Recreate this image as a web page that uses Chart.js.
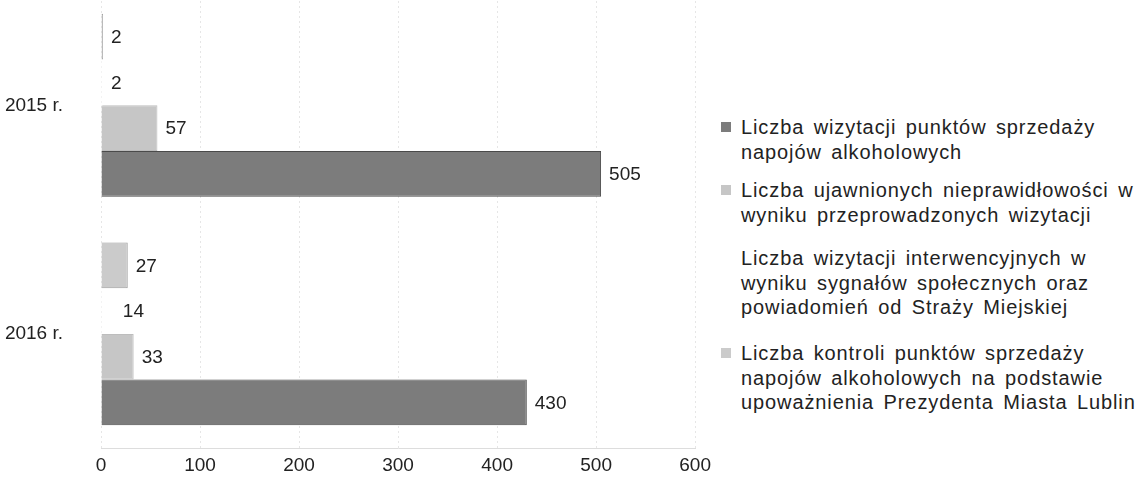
<!DOCTYPE html>
<html>
<head>
<meta charset="utf-8">
<script src="https://cdn.jsdelivr.net/npm/chart.js@4"></script>
<style>
  body { margin: 0; background: #fff; font-family: "Liberation Sans", Arial, sans-serif; overflow: hidden; }
  #wrap { position: absolute; left: 0; top: -9px; width: 717px; height: 499px; }
  #legend { position: absolute; left: 0; top: 0; }
  .item { position: absolute; left: 720px; width: 423px; font-size: 20px; line-height: 24.5px; color: #222; letter-spacing: 0.9px; word-spacing: 3px; }
  .box { position: absolute; left: 1px; top: 7px; width: 10px; height: 10px; }
  .txt { margin-left: 21px; white-space: nowrap; }
</style>
</head>
<body>
<div id="wrap"><canvas id="barChart"></canvas></div>
<div id="legend"></div>
<script>
const categories = ['2015 r.', '2016 r.'];
const wizytacje = [505, 430];
const nieprawidlowosci = [57, 33];
const interwencyjne = [2, 14];
const kontrole = [2, 27];
const xTicks = [0, 100, 200, 300, 400, 500, 600];

const seriesNames = [
    ['Liczba wizytacji punktów sprzedaży', 'napojów alkoholowych'],
    ['Liczba ujawnionych nieprawidłowości w', 'wyniku przeprowadzonych wizytacji'],
    ['Liczba wizytacji interwencyjnych w', 'wyniku sygnałów społecznych oraz', 'powiadomień od Straży Miejskiej'],
    ['Liczba kontroli punktów sprzedaży', 'napojów alkoholowych na podstawie', 'upoważnienia Prezydenta Miasta Lublin']
];
const colors = ['#7c7c7c', '#c6c6c6', '#ffffff', '#cbcbcb'];
const borders = ['#4a4a4a', '#bdbdbd', '#ffffff', '#9a9a9a'];

// value labels next to bar ends
const valueLabels = {
    id: 'valueLabels',
    afterDatasetsDraw(chart) {
        const ctx = chart.ctx;
        ctx.save();
        ctx.font = '19px "Liberation Sans", Arial, sans-serif';
        ctx.fillStyle = '#222';
        ctx.textBaseline = 'middle';
        chart.data.datasets.forEach((ds, i) => {
            chart.getDatasetMeta(i).data.forEach((bar, j) => {
                ctx.fillText(ds.data[j], bar.x + 8, bar.y + 1);
            });
        });
        ctx.restore();
    }
};

// top to bottom inside a category: kontrole, interwencyjne, nieprawidlowosci, wizytacje
const order = [3, 2, 1, 0];
const values = [wizytacje, nieprawidlowosci, interwencyjne, kontrole];

const config = {
    type: 'bar',
    data: {
        labels: categories,
        datasets: order.map(k => ({
            label: seriesNames[k].join(' '),
            data: values[k],
            backgroundColor: colors[k],
            borderColor: borders[k],
            borderWidth: k === 2 ? 0 : 1,
            barPercentage: 1,
            categoryPercentage: 0.8
        }))
    },
    options: {
        indexAxis: 'y',
        responsive: true,
        maintainAspectRatio: false,
        animation: false,
        layout: {
            padding: { top: 0, right: 17, bottom: 7, left: 0 }
        },
        plugins: {
            legend: { display: false },
            tooltip: { enabled: false }
        },
        scales: {
            x: {
                min: 0,
                max: 600,
                afterBuildTicks: (axis) => { axis.ticks = xTicks.map(v => ({ value: v })); },
                grid: { color: '#e6e6e6', drawTicks: false },
                border: { color: '#dddddd', dash: [2, 3] },
                ticks: {
                    padding: 6,
                    color: '#222',
                    font: { family: '"Liberation Sans", Arial, sans-serif', size: 19 }
                }
            },
            y: {
                grid: { display: false, drawTicks: false },
                border: { display: false },
                afterFit: (axis) => {
                    axis.width = 101;
                    axis.paddingTop = 0;
                    axis.paddingBottom = 0;
                },
                ticks: {
                    padding: 38,
                    color: '#222',
                    font: { family: '"Liberation Sans", Arial, sans-serif', size: 19 }
                }
            }
        }
    },
    plugins: [valueLabels]
};

new Chart(document.getElementById('barChart'), config);

// legend on the right
const legendTops = [115, 178, 246, 341];
const legend = document.getElementById('legend');
seriesNames.forEach((lines, k) => {
    const item = document.createElement('div');
    item.className = 'item';
    item.style.top = legendTops[k] + 'px';
    const box = document.createElement('div');
    box.className = 'box';
    box.style.background = colors[k];
    const txt = document.createElement('div');
    txt.className = 'txt';
    txt.innerHTML = lines.join('<br>');
    item.appendChild(box);
    item.appendChild(txt);
    legend.appendChild(item);
});
</script>
</body>
</html>
